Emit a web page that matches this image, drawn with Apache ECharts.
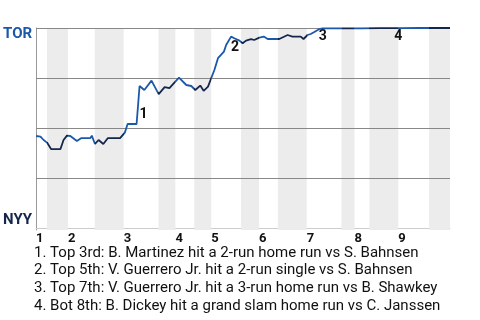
<!DOCTYPE html>
<html><head><meta charset="utf-8">
<script src="https://cdn.jsdelivr.net/npm/echarts@6/dist/echarts.min.js"></script>
<style>html,body{margin:0;padding:0;background:#fff}#c{width:480px;height:320px}</style>
</head><body><div id="c"></div>
<script>
// Game progress units; boundaries of each half inning (top 1, bot 1, top 2, ...)
const halfInningBounds = [0, 2.75, 8, 14.75, 22, 30.75, 35, 39.75, 44, 51.5, 56, 60.75, 68, 76.75, 80, 83.75, 91, 98.75, 104];
const inningLabels = ['1', '2', '3', '4', '5', '6', '7', '8', '9'];
const teamLabels = ['NYY', 'TOR'];
// Win probability for TOR along the game
const progress = [0, 1.1, 1.9, 2.75, 3.8, 6.1, 6.9, 7.75, 8.6, 10.25, 11.3, 13.6, 14.0, 14.8, 15.7, 16.9, 18.0, 21.1, 22.3, 23.0, 25.25, 26.0, 27.2, 29.0, 30.8, 32.3, 33.5, 35.9, 37.75, 39.0, 40.0, 41.25, 42.1, 43.2, 44.0, 44.8, 45.7, 46.1, 47.2, 47.75, 49.0, 49.8, 51.1, 51.9, 52.75, 54.0, 54.8, 56.1, 57.2, 58.2, 61.1, 63.2, 64.4, 66.5, 67.2, 68.2, 69.0, 69.8, 71.1, 72.0, 76.5, 81.5, 86.5, 91.5, 96.5, 104];
const winProb = [0.46, 0.457, 0.44, 0.427, 0.394, 0.394, 0.44, 0.462, 0.46, 0.435, 0.449, 0.449, 0.462, 0.42, 0.44, 0.42, 0.449, 0.449, 0.477, 0.52, 0.52, 0.71, 0.69, 0.737, 0.669, 0.704, 0.699, 0.752, 0.715, 0.71, 0.69, 0.712, 0.686, 0.707, 0.749, 0.79, 0.849, 0.857, 0.882, 0.915, 0.957, 0.949, 0.937, 0.924, 0.937, 0.944, 0.94, 0.952, 0.957, 0.945, 0.945, 0.965, 0.957, 0.957, 0.945, 0.965, 0.97, 0.979, 0.994, 0.998, 0.998, 0.998, 0.999, 0.999, 1.0, 1.0];
// Key events
const eventIds = ['1', '2', '3', '4'];
const eventX = [26, 49, 71, 90];
const eventY = [0.605, 0.94, 0.995, 0.995];
const eventTexts = [
  'Top 3rd: B. Martinez hit a 2-run home run vs S. Bahnsen',
  'Top 5th: V. Guerrero Jr. hit a 2-run single vs S. Bahnsen',
  'Top 7th: V. Guerrero Jr. hit a 3-run home run vs B. Shawkey',
  'Bot 8th: B. Dickey hit a grand slam home run vs C. Janssen'
];
const gridLevels = [0.25, 0.5, 0.75, 1];

const BLUE = '#1b58aa', NAVY = '#15264c';
const inningStarts = halfInningBounds.filter((v, i) => i % 2 === 0 && i < halfInningBounds.length - 1);
const pieces = [];
const shade = [];
for (let i = 0; i < halfInningBounds.length - 1; i++) {
  const p = { gte: halfInningBounds[i], color: i % 2 === 0 ? BLUE : NAVY };
  if (i < halfInningBounds.length - 2) p.lt = halfInningBounds[i + 1]; else p.lte = halfInningBounds[i + 1];
  pieces.push(p);
  if (i % 2 === 1) shade.push([{ xAxis: halfInningBounds[i] }, { xAxis: halfInningBounds[i + 1] }]);
}
const FONT = 'Roboto';
const chart = echarts.init(document.getElementById('c'), null, { renderer: 'canvas' });
chart.setOption({
  animation: false,
  backgroundColor: '#fff',
  title: {
    text: eventTexts.map((t, i) => eventIds[i] + '. ' + t).join('\n'),
    left: 34, top: 244, padding: 0,
    textStyle: { fontFamily: FONT, fontSize: 15, fontWeight: 'normal', color: '#111', lineHeight: 17.7 }
  },
  grid: { left: 34, right: 30, top: 28, bottom: 90 },
  xAxis: {
    type: 'value', min: 0, max: 104,
    axisLine: { show: true, lineStyle: { color: '#cccccc', width: 1 } },
    axisTick: { show: false },
    splitLine: { show: false },
    axisLabel: {
      customValues: inningStarts,
      formatter: v => inningLabels[inningStarts.indexOf(v)],
      align: 'left', margin: 2,
      fontFamily: FONT, fontSize: 13, fontWeight: 'bold', color: '#111'
    }
  },
  yAxis: {
    type: 'value', min: -0.01, max: 1,
    axisLine: { show: true, lineStyle: { color: '#999', width: 1 } },
    axisTick: { show: false },
    splitLine: { show: false },
    axisLabel: {
      customValues: [0, 1],
      margin: 4,
      formatter: v => v >= 0.5 ? '{t|' + teamLabels[1] + '}' : '{n|' + teamLabels[0] + '}',
      rich: {
        t: { fontFamily: FONT, fontSize: 15, fontWeight: 'bold', color: BLUE, padding: [12, 0, 0, 0] },
        n: { fontFamily: FONT, fontSize: 15, fontWeight: 'bold', color: NAVY, padding: [0, 0, 16, 0] }
      }
    }
  },
  visualMap: { show: false, type: 'piecewise', dimension: 0, seriesIndex: 1, pieces: pieces },
  series: [
    {
      type: 'line', data: [], silent: true, z: 1,
      markArea: { silent: true, z: 1, itemStyle: { color: '#ececec' }, data: shade },
      markLine: {
        silent: true, z: 2, symbol: ['none', 'none'], label: { show: false },
        lineStyle: { color: '#888', width: 1, type: 'solid' },
        data: gridLevels.map(v => ({ yAxis: v }))
      }
    },
    {
      type: 'line', z: 3, showSymbol: false, symbol: 'none',
      data: progress.map((x, i) => [x, winProb[i]]),
      lineStyle: { width: 1.8 }
    },
    {
      type: 'scatter', z: 6, symbolSize: 0, itemStyle: { color: '#111', opacity: 1 },
      data: eventX.map((x, i) => [x, eventY[i]]),
      label: {
        show: true, position: [0, 0], align: 'left', verticalAlign: 'top', opacity: 1,
        textBorderWidth: 0, textBorderColor: 'transparent',
        formatter: p => eventIds[p.dataIndex],
        fontFamily: FONT, fontSize: 14, fontWeight: 'bold', color: '#111'
      }
    }
  ]
});
</script></body></html>
